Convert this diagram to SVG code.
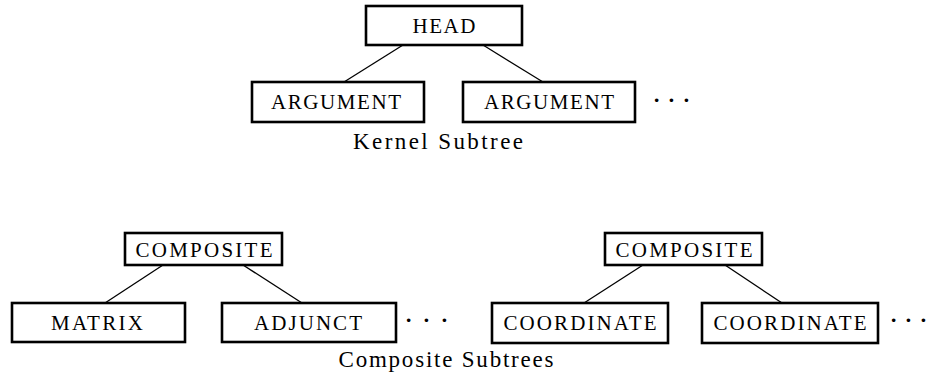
<svg xmlns="http://www.w3.org/2000/svg" width="927" height="379" viewBox="0 0 927 379" font-family="Liberation Serif, DejaVu Serif, serif">
<style>
.box{fill:#fff;stroke:#000;stroke-width:2.6}
.lbl{font-size:21px;text-anchor:middle;fill:#000}
.cap{font-size:23px;text-anchor:middle;fill:#000}
.dots{font-size:22px;font-weight:bold;fill:#000}
.edge{stroke:#000;stroke-width:1.3;fill:none}
</style>
<rect width="927" height="379" fill="#fff"/>
<g id="connectors">
<line class="edge" x1="403" y1="45" x2="344" y2="82"/>
<line class="edge" x1="483" y1="45" x2="543" y2="82"/>
<line class="edge" x1="163" y1="265" x2="105" y2="303"/>
<line class="edge" x1="243" y1="265" x2="302" y2="303"/>
<line class="edge" x1="643" y1="265" x2="584" y2="303"/>
<line class="edge" x1="725" y1="265" x2="782" y2="303"/>
</g>
<g id="head"><rect class="box" x="366" y="6" width="156" height="39"/><text class="lbl" font-family="Liberation Serif" x="444" y="33" textLength="63" lengthAdjust="spacing">HEAD</text></g>
<g id="arg1"><rect class="box" x="252" y="82" width="172" height="40"/><text class="lbl" font-family="Liberation Serif" x="336" y="109" textLength="130" lengthAdjust="spacing">ARGUMENT</text></g>
<g id="arg2"><rect class="box" x="463" y="82" width="172" height="40"/><text class="lbl" font-family="Liberation Serif" x="549" y="109" textLength="130" lengthAdjust="spacing">ARGUMENT</text></g>
<g id="dots1"><text class="dots" x="653" y="107" textLength="37" lengthAdjust="spacing">· · ·</text></g>
<g id="kernel-label"><text class="cap" font-family="Liberation Serif" x="438" y="149" textLength="170" lengthAdjust="spacing">Kernel Subtree</text></g>
<g id="composite1"><rect class="box" x="125" y="233" width="157" height="32"/><text class="lbl" font-family="Liberation Serif" x="204" y="257" textLength="137" lengthAdjust="spacing">COMPOSITE</text></g>
<g id="matrix"><rect class="box" x="12" y="303" width="173" height="39"/><text class="lbl" font-family="Liberation Serif" x="97" y="330" textLength="92" lengthAdjust="spacing">MATRIX</text></g>
<g id="adjunct"><rect class="box" x="222" y="303" width="174" height="39"/><text class="lbl" font-family="Liberation Serif" x="308" y="330" textLength="108" lengthAdjust="spacing">ADJUNCT</text></g>
<g id="dots2"><text class="dots" x="405" y="327" textLength="43" lengthAdjust="spacing">· · ·</text></g>
<g id="composite2"><rect class="box" x="605" y="233" width="157" height="32"/><text class="lbl" font-family="Liberation Serif" x="684" y="257" textLength="137" lengthAdjust="spacing">COMPOSITE</text></g>
<g id="coord1"><rect class="box" x="492" y="303" width="176" height="40"/><text class="lbl" font-family="Liberation Serif" x="580" y="330" textLength="153" lengthAdjust="spacing">COORDINATE</text></g>
<g id="coord2"><rect class="box" x="702" y="303" width="176" height="40"/><text class="lbl" font-family="Liberation Serif" x="790" y="330" textLength="153" lengthAdjust="spacing">COORDINATE</text></g>
<g id="dots3"><text class="dots" x="890" y="327" textLength="37" lengthAdjust="spacing">· · ·</text></g>
<g id="composite-label"><text class="cap" font-family="Liberation Serif" x="446" y="367" textLength="215" lengthAdjust="spacing">Composite Subtrees</text></g>
</svg>
